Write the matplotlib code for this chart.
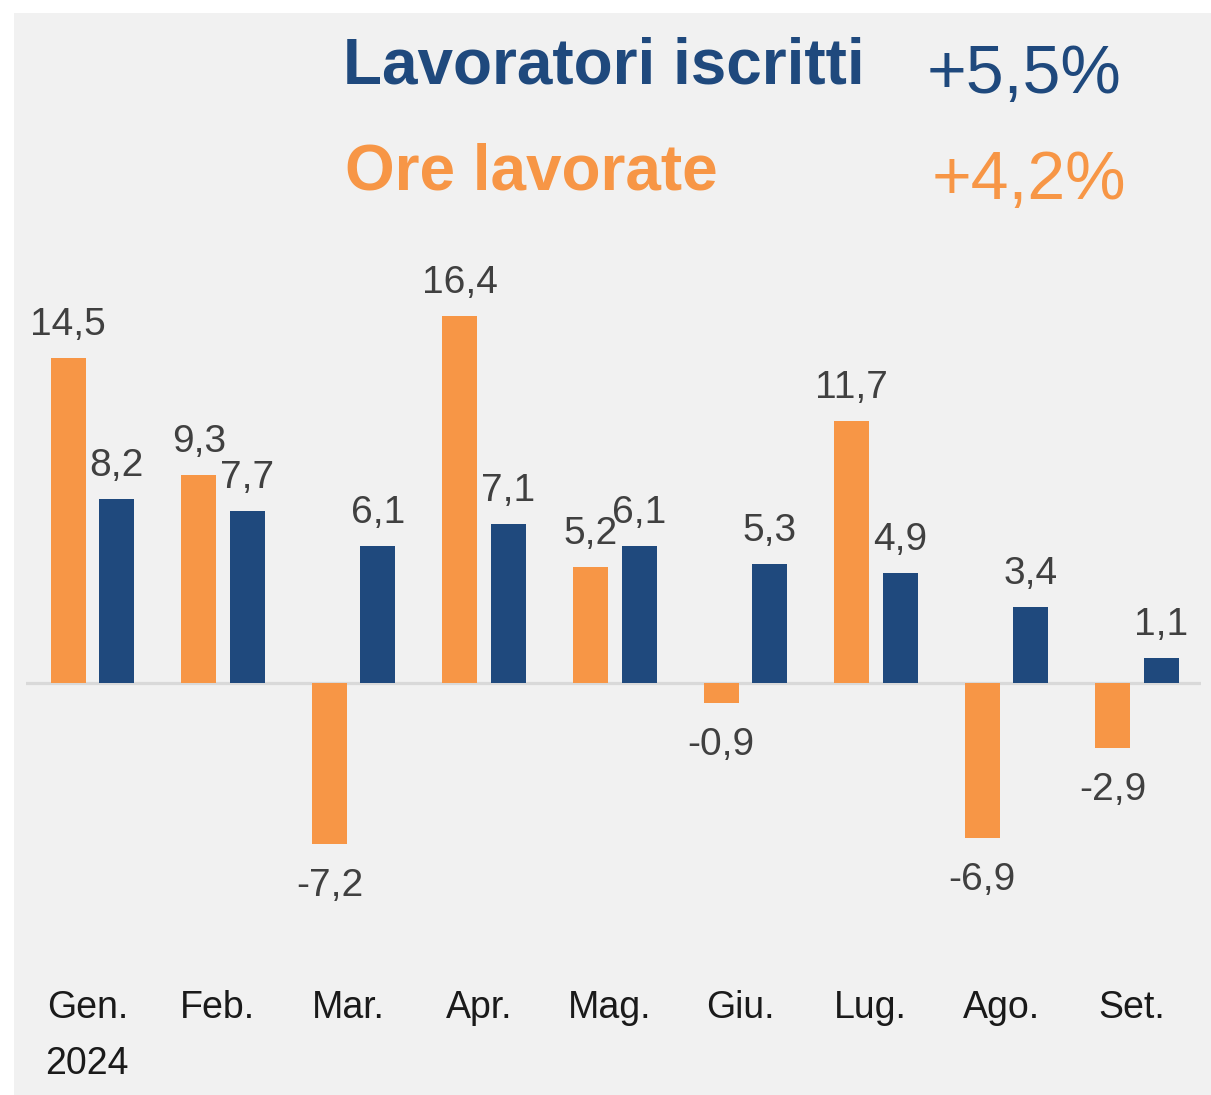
import matplotlib
matplotlib.use("Agg")
import matplotlib.pyplot as plt
from matplotlib.patches import Rectangle
import numpy as np

# ---- data ----
months = ["Gen.\n2024", "Feb.", "Mar.", "Apr.", "Mag.", "Giu.", "Lug.", "Ago.", "Set."]
ore_lavorate = [14.5, 9.3, -7.2, 16.4, 5.2, -0.9, 11.7, -6.9, -2.9]
lavoratori_iscritti = [8.2, 7.7, 6.1, 7.1, 6.1, 5.3, 4.9, 3.4, 1.1]
title_lav = "Lavoratori iscritti"
title_ore = "Ore lavorate"
total_lav = "+5,5%"
total_ore = "+4,2%"

ORANGE = "#F79646"
NAVY = "#1F497D"
LABEL = "#404040"
BG = "#F1F1F1"

W, H = 1211, 1095
plt.rcParams['font.family'] = ['Liberation Sans', 'DejaVu Sans']
fig = plt.figure(figsize=(W / 100, H / 100), dpi=100, facecolor="white")

# gray panel
bg = Rectangle((14 / W, 0), 1 - 14 / W, 1 - 13 / H,
               transform=fig.transFigure, facecolor=BG,
               edgecolor="none", zorder=-10)
fig.add_artist(bg)

def fx(px):
    return px / W

def fy(py):
    return 1 - py / H

ax_left, ax_right, ax_top, ax_bot = 26, 1201, 240, 960
ax = fig.add_axes([fx(ax_left), fy(ax_bot), (ax_right - ax_left) / W, (ax_bot - ax_top) / H])
ax.set_facecolor("none")
ax.set_zorder(1)

scale = 22.4  # px per unit
zero_px = 683
ax.set_ylim(-(ax_bot - zero_px) / scale, (zero_px - ax_top) / scale)
ax.set_xlim(-0.51, 8.49)

x = np.arange(len(months))
bw = 0.268
off = 0.186
ax.bar(x - off, ore_lavorate, width=bw, color=ORANGE, zorder=2)
ax.bar(x + off, lavoratori_iscritti, width=bw, color=NAVY, zorder=2)
ax.axhline(0, color="#D9D9D9", lw=2.3, zorder=1)

def fmt(v):
    return f"{v:.1f}".replace(".", ",")

for xs, vals in ((x - off, ore_lavorate), (x + off, lavoratori_iscritti)):
    for xi, v in zip(xs, vals):
        dy = 23 * 0.72 if v >= 0 else -(23 + 29) * 0.72
        ax.annotate(fmt(v), xy=(xi, v), xytext=(0, dy), textcoords="offset points",
                    ha="center", va="baseline", fontsize=28, color=LABEL, zorder=3)

ax.set_xticks(x - 0.04)
ax.set_xticklabels(months, fontsize=27, color="#1a1a1a")
for t in ax.get_xticklabels():
    t.set_linespacing(1.7)
ax.tick_params(axis="x", length=0, pad=21.6)
ax.set_yticks([])
for s in ax.spines.values():
    s.set_visible(False)

# titles
fig.text(fx(343), fy(83), title_lav, fontsize=46, fontweight="bold", color=NAVY,
         ha="left", va="baseline", zorder=5)
fig.text(fx(345), fy(190), title_ore, fontsize=46, fontweight="bold", color=ORANGE,
         ha="left", va="baseline", zorder=5)
fig.text(fx(927), fy(93), total_lav, fontsize=49, color=NAVY, ha="left", va="baseline", zorder=5)
fig.text(fx(932), fy(199), total_ore, fontsize=49, color=ORANGE, ha="left", va="baseline", zorder=5)

fig.savefig("out.png", dpi=100, facecolor="white")
